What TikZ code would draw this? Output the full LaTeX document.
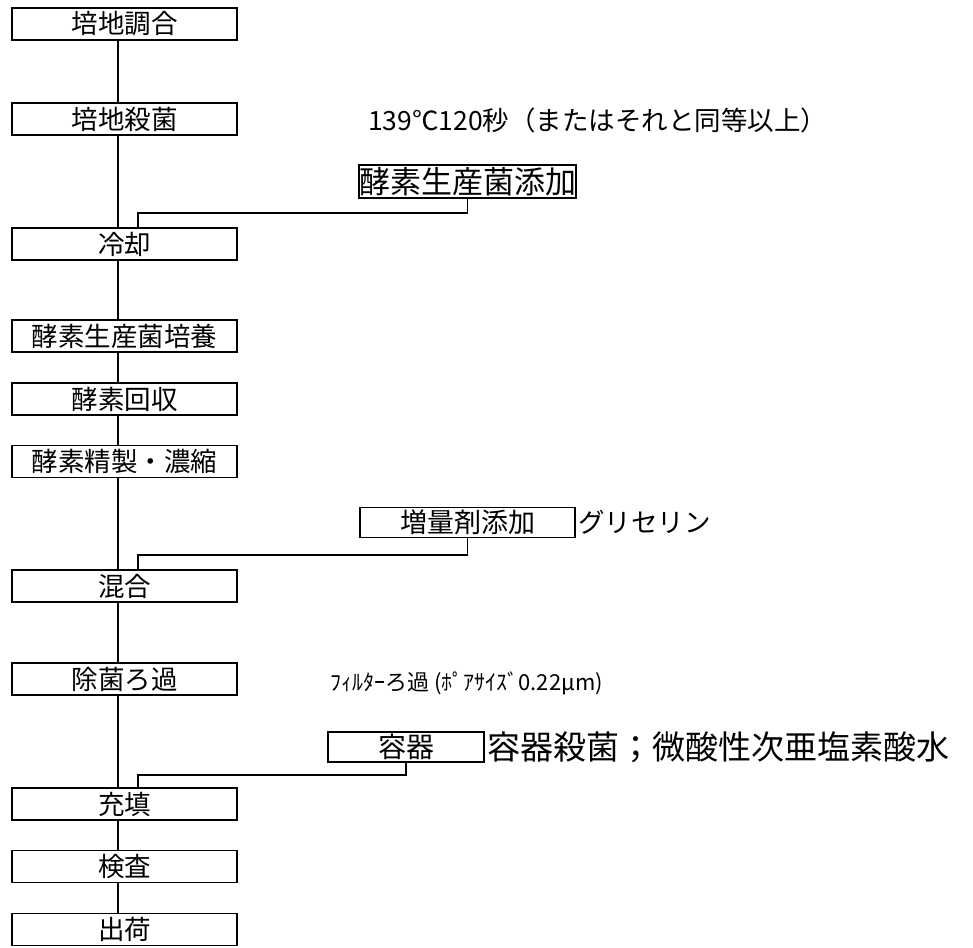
\documentclass[tikz,border=0pt]{standalone}
\usepackage{fontspec}
\setmainfont{Noto Sans CJK JP}
\begin{document}
\begin{tikzpicture}[x=1pt,y=-1pt,
  mainbox/.style={draw,line width=1.8pt,minimum width=225pt,minimum height=32pt,inner sep=0pt,
    font=\fontsize{26.5}{28}\selectfont},
  sidebox/.style={draw,line width=1.8pt,minimum height=32pt,inner sep=0pt},
  note/.style={anchor=west,inner sep=0pt,font=\fontsize{26.5}{28}\selectfont},
  link/.style={line width=1.6pt}]
\useasboundingbox (0,0) rectangle (973,947);
% main column
\node[mainbox] (p1) at (124.5,24) {培地調合};
\node[mainbox] (p2) at (124.5,119) {培地殺菌};
\node[mainbox] (p3) at (124.5,244) {冷却};
\node[mainbox] (p4) at (124.5,336) {酵素生産菌培養};
\node[mainbox] (p5) at (124.5,399) {酵素回収};
\node[mainbox] (p6) at (124.5,461.5) {酵素精製・濃縮};
\node[mainbox] (p7) at (124.5,586) {混合};
\node[mainbox] (p8) at (124.5,679) {除菌ろ過};
\node[mainbox] (p9) at (124.5,804) {充填};
\node[mainbox] (p10) at (124.5,866.5) {検査};
\node[mainbox] (p11) at (124.5,929.5) {出荷};
% side boxes
\node[sidebox,minimum width=215pt,minimum height=33pt,font=\fontsize{31}{32}\selectfont] (s1) at (467.5,181.5) {酵素生産菌添加};
\node[sidebox,minimum width=215pt,minimum height=30pt,font=\fontsize{27}{28}\selectfont] (s2) at (467.5,522.5) {増量剤添加};
\node[sidebox,minimum width=156pt,minimum height=30pt,font=\fontsize{28}{29}\selectfont] (s3) at (406,747) {容器};
% notes
\node[note] (t1) at (368,120) {139℃120秒（またはそれと同等以上）};
\node[note] (t2) at (578,522) {グリセリン};
\node[note,font=\fontsize{22}{24}\selectfont] (t3) at (330,683) {ﾌｨﾙﾀｰろ過 (ﾎﾟｱｻｲｽﾞ0.22μm)};
\node[note,font=\fontsize{33}{34}\selectfont] (t4) at (487,747) {容器殺菌；微酸性次亜塩素酸水};
% junction coordinates
\coordinate (k1) at (138,213);
\coordinate (k2) at (138,555);
\coordinate (k3) at (138,775);
% main line
\foreach \a/\b in {p1/p2,p2/p3,p3/p4,p4/p5,p5/p6,p6/p7,p7/p8,p8/p9,p9/p10,p10/p11}
  \draw[link] ([xshift=-6.5pt]\a.south) -- ([xshift=-6.5pt]\b.north);
% side connectors
\draw[link] (s1.south) |- (k1) -- (k1 |- p3.north);
\draw[link] (s2.south) |- (k2) -- (k2 |- p7.north);
\draw[link] (s3.south) |- (k3) -- (k3 |- p9.north);
\end{tikzpicture}
\end{document}
